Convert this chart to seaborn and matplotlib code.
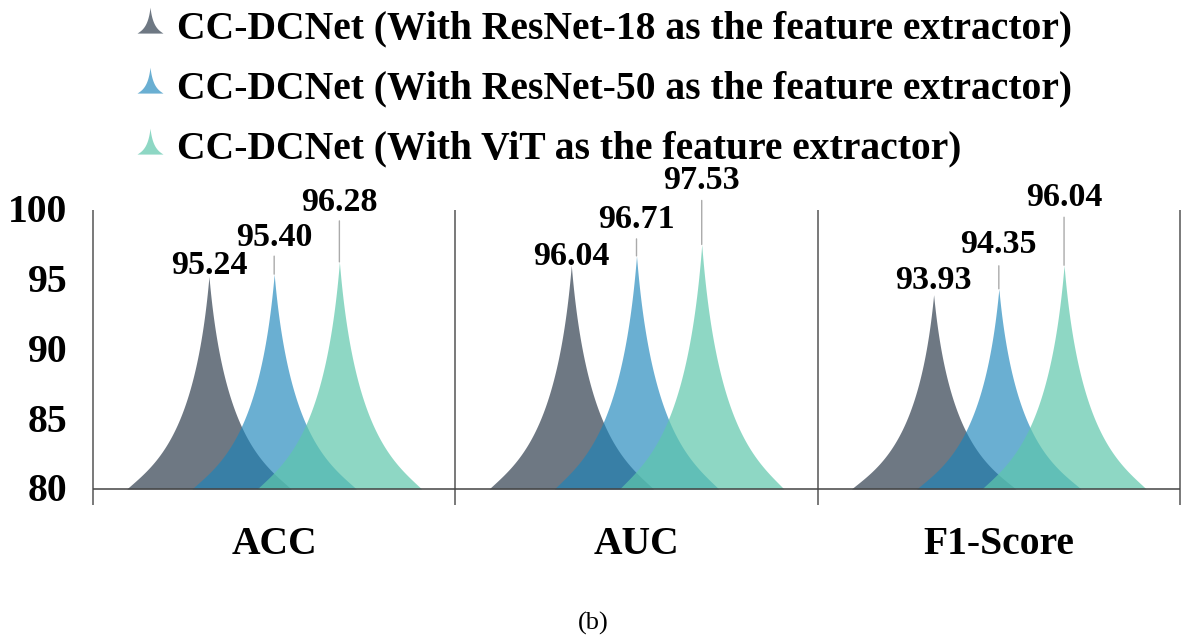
import numpy as np
import pandas as pd
import matplotlib.pyplot as plt
from matplotlib.lines import Line2D
from matplotlib.path import Path
from matplotlib.transforms import ScaledTranslation
import seaborn as sns

categories = ["ACC", "AUC", "F1-Score"]
models = [
    "CC-DCNet (With ResNet-18 as the feature extractor)",
    "CC-DCNet (With ResNet-50 as the feature extractor)",
    "CC-DCNet (With ViT as the feature extractor)",
]
resnet18 = [95.24, 96.04, 93.93]
resnet50 = [95.40, 96.71, 94.35]
vit = [96.28, 97.53, 96.04]
y_ticks = [80, 85, 90, 95, 100]

colors = [(0.10, 0.16, 0.23, 0.63), (0.106, 0.518, 0.729, 0.65), (0.369, 0.78, 0.675, 0.70)]

# leader line length and label lift above each peak, in pixels
leader_px = [[0, 0, 0], [18, 17, 23], [41, 44, 48]]
lift_px = [[2, 0, 6], [28, 28, 36], [51, 55, 59]]
PX = 0.72

sns.set_theme(style="white")
plt.rcParams["font.family"] = ["Liberation Serif", "DejaVu Serif"]
plt.rcParams["font.weight"] = "bold"


def spike_profile(n=80):
    # left half of the pointed shape, from base (-1, 0) to tip (0, 1)
    t = np.linspace(0, 1, n)
    x = -(1 - t) ** 3 - 3 * t * (1 - t) ** 2 * 0.65 - 3 * t ** 2 * (1 - t) * 0.17
    y = 3 * t * (1 - t) ** 2 * 0.12 + 3 * t ** 2 * (1 - t) * 0.25 + t ** 3
    return x, y


df = pd.DataFrame({
    "category": categories * 3,
    "model": [m for m in models for _ in categories],
    "value": resnet18 + resnet50 + vit,
})

fig = plt.figure(figsize=(11.82, 6.38), dpi=100)
ax = fig.add_axes([93 / 1182, 1 - 505 / 638, (1180 - 93) / 1182, (505 - 210) / 638])
sns.barplot(data=df, x="category", y="value", hue="model", hue_order=models,
            order=categories, width=0.54, gap=0, legend=False, ax=ax)

BASE = 80
sx, sy = spike_profile()
for i, container in enumerate(ax.containers):
    for j, bar in enumerate(container):
        bar.set_visible(False)
        center = bar.get_x() + bar.get_width() / 2
        value = bar.get_height()
        half = bar.get_width() * 1.26
        xs = np.concatenate([center + sx * half, center - sx[::-1] * half])
        ys = np.concatenate([BASE + sy * (value - BASE), BASE + sy[::-1] * (value - BASE)])
        ax.fill_between(xs, BASE, ys, color=colors[i], linewidth=0, zorder=2 + i)
        if leader_px[i][j]:
            ax.annotate("", xy=(center, value), xytext=(0, leader_px[i][j] * PX),
                        textcoords="offset points",
                        arrowprops=dict(arrowstyle="-", color="#aaaaaa", lw=1,
                                        shrinkA=0, shrinkB=0))
        ax.annotate(f"{value:.2f}", xy=(center, value), xytext=(0, lift_px[i][j] * PX),
                    textcoords="offset points", ha="center", va="baseline",
                    fontsize=24.5, color="black", annotation_clip=False)

ax.set_xlim(-0.5, 2.5)
ax.set_ylim(78.85, 100)
ax.set_yticks(y_ticks)
ax.set_xlabel("")
ax.set_ylabel("")
ax.tick_params(axis="y", length=0, pad=18.3, labelsize=28.5, labelcolor="black")
ax.tick_params(axis="x", length=0, pad=15, labelsize=28.5, labelcolor="black")
lift = ScaledTranslation(0, 1.5 / 100, fig.dpi_scale_trans)
for label in ax.get_yticklabels():
    label.set_transform(label.get_transform() + lift)
sns.despine(ax=ax, left=True, bottom=True)
ax.vlines([-0.5, 0.5, 1.5, 2.5], 78.85, 100, color="#555555", lw=1.1, zorder=6, clip_on=False)
ax.hlines(BASE, -0.5, 2.5, color="#444444", lw=1.1, zorder=6)

# legend glyph: same spike, lifted a little above the text centre
tip_x = np.concatenate([sx, -sx[::-1]])
tip_y = np.concatenate([sy, sy[::-1]]) * 2 - 1 + 0.3
marker = Path(np.column_stack([tip_x, tip_y]))
handles = [Line2D([], [], linestyle="none", marker=marker, markersize=24.3,
                  markerfacecolor=c, markeredgewidth=0, label=m)
           for c, m in zip(colors, models)]
fig.legend(handles=handles, loc="upper left", bbox_to_anchor=(132 / 1182, 1 - 10 / 638), frameon=False,
           fontsize=28.5, labelspacing=0.59, handletextpad=0.24, handlelength=0.9,
           borderaxespad=0, borderpad=0, labelcolor="black")

fig.text(593 / 1182, 1 - 623 / 638, "(b)", ha="center", va="center", fontsize=19,
         fontweight="normal", color="black")

fig.savefig("out.png", dpi=100)
